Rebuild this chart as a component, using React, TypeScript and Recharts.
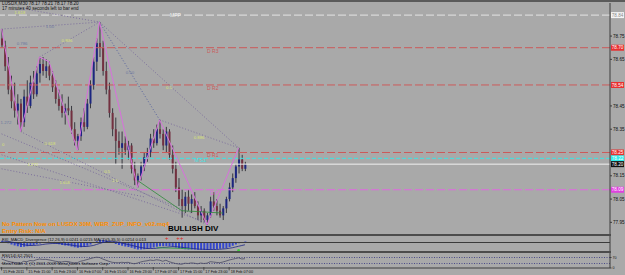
import React from "react";
import {
  ComposedChart,
  Bar,
  Line,
  XAxis,
  YAxis,
  ReferenceLine,
  ReferenceDot,
} from "recharts";

// LUSDX M30 candles (index = bar slot)
const opens = [
  78.74, 78.71, 78.62, 78.52, 78.47, 78.43, 78.46, 78.38, 78.49, 78.45,
  78.55, 78.5, 78.59, 78.63, 78.6, 78.62, 78.58, 78.53, 78.48, 78.45,
  78.42, 78.44, 78.43, 78.35, 78.3, 78.32, 78.38, 78.36, 78.46, 78.54,
  78.64, 78.72, 78.7, 78.6, 78.52, 78.42, 78.35, 78.3, 78.27, 78.29,
  78.26, 78.28, 78.18, 78.13, 78.15, 78.19, 78.23, 78.25, 78.31, 78.29,
  78.35, 78.33, 78.28, 78.34, 78.24, 78.18, 78.1, 78.05, 78.02, 78.06,
  78.03, 78.05, 78.02, 77.98, 78.0, 77.96, 77.98, 78.04, 78.02, 78.0,
  77.98, 78.01, 78.05, 78.1, 78.14, 78.19, 78.22, 78.18,
];
const highs = [
  78.78, 78.73, 78.66, 78.58, 78.55, 78.5, 78.48, 78.52, 78.56, 78.58,
  78.6, 78.62, 78.66, 78.66, 78.65, 78.64, 78.6, 78.56, 78.52, 78.5,
  78.46, 78.49, 78.45, 78.38, 78.33, 78.4, 78.44, 78.48, 78.56, 78.66,
  78.74, 78.81, 78.73, 78.64, 78.55, 78.44, 78.4, 78.34, 78.34, 78.32,
  78.3, 78.29, 78.21, 78.16, 78.21, 78.25, 78.27, 78.33, 78.35, 78.37,
  78.39, 78.35, 78.36, 78.35, 78.28, 78.21, 78.14, 78.09, 78.08, 78.09,
  78.07, 78.08, 78.04, 78.02, 78.01, 77.99, 78.06, 78.08, 78.05, 78.03,
  78.02, 78.06, 78.12, 78.16, 78.2, 78.27, 78.24, 78.21,
];
const lows = [
  78.7, 78.6, 78.5, 78.44, 78.4, 78.37, 78.34, 78.36, 78.42, 78.44,
  78.48, 78.49, 78.55, 78.58, 78.57, 78.56, 78.51, 78.46, 78.43, 78.4,
  78.37, 78.41, 78.33, 78.28, 78.26, 78.3, 78.34, 78.35, 78.44, 78.52,
  78.6, 78.66, 78.58, 78.5, 78.4, 78.32, 78.2, 78.24, 78.18, 78.24,
  78.22, 78.16, 78.11, 78.1, 78.13, 78.17, 78.21, 78.23, 78.27, 78.28,
  78.31, 78.26, 78.25, 78.22, 78.16, 78.08, 78.02, 77.97, 77.99, 78.0,
  77.99, 78.01, 77.96, 77.95, 77.95, 77.94, 77.97, 78.0, 77.98, 77.97,
  77.96, 77.99, 78.04, 78.08, 78.12, 78.16, 78.17, 78.17,
];
const closes = [
  78.71, 78.62, 78.52, 78.47, 78.43, 78.46, 78.38, 78.49, 78.45, 78.55,
  78.5, 78.59, 78.63, 78.6, 78.62, 78.58, 78.53, 78.48, 78.45, 78.42,
  78.44, 78.43, 78.35, 78.3, 78.32, 78.38, 78.36, 78.46, 78.54, 78.64,
  78.72, 78.7, 78.6, 78.52, 78.42, 78.35, 78.3, 78.27, 78.29, 78.26,
  78.28, 78.18, 78.13, 78.15, 78.19, 78.23, 78.25, 78.31, 78.29, 78.35,
  78.33, 78.28, 78.34, 78.24, 78.18, 78.1, 78.05, 78.02, 78.06, 78.03,
  78.05, 78.02, 77.98, 78.0, 77.96, 77.98, 78.04, 78.02, 78.0, 77.98,
  78.01, 78.05, 78.1, 78.14, 78.19, 78.22, 78.18, 78.2,
];

// sub-window indicators
const macdMain = [
  0.005, 0.002, -0.003, -0.008, -0.012, -0.015, -0.018,
  -0.017, -0.015, -0.012, -0.01, -0.007, -0.004, -0.002, -0.001,
  -0.001, -0.002, -0.004, -0.007, -0.01, -0.012, -0.013, -0.016, -0.019, -0.021,
  -0.019, -0.017, -0.013, -0.008, -0.002, 0.005, 0.01,
  0.011, 0.009, 0.005, -0.001, -0.006, -0.01, -0.013, -0.016, -0.018, -0.021, -0.025, -0.028,
  -0.028, -0.027, -0.025, -0.022, -0.02, -0.017, -0.015,
  -0.015, -0.014, -0.015, -0.017, -0.02, -0.023, -0.026, -0.027, -0.028, -0.028, -0.028, -0.029, -0.029, -0.03, -0.03,
  -0.028, -0.027, -0.026, -0.025, -0.024, -0.022, -0.018, -0.013, -0.008, -0.003, 0.001, 0.004,
];
const macdSignal = [
  0.006, 0.005, 0.004, 0.002, 0.0, -0.003, -0.006,
  -0.009, -0.011, -0.012, -0.012, -0.011, -0.01, -0.008, -0.006,
  -0.005, -0.004, -0.004, -0.004, -0.005, -0.007, -0.008, -0.01, -0.012, -0.014,
  -0.015, -0.016, -0.016, -0.014, -0.012, -0.008, -0.004,
  0.0, 0.003, 0.005, 0.005, 0.003, 0.001, -0.002, -0.005, -0.008, -0.011, -0.014, -0.017,
  -0.02, -0.022, -0.024, -0.024, -0.024, -0.023, -0.021,
  -0.02, -0.019, -0.018, -0.017, -0.017, -0.018, -0.019, -0.021, -0.022, -0.024, -0.025, -0.026, -0.027, -0.027, -0.028,
  -0.028, -0.028, -0.028, -0.027, -0.026, -0.025, -0.023, -0.021, -0.018, -0.015, -0.012, -0.009,
];
const rsi = [
  60, 52, 45, 40, 37, 36, 33,
  45, 42, 50, 47, 55, 60, 57, 58,
  54, 50, 45, 42, 40, 44, 43, 38, 34, 36,
  45, 50, 56, 62, 68, 72, 70,
  60, 52, 44, 38, 36, 35, 38, 36, 38, 32, 28, 33,
  40, 45, 48, 53, 50, 55, 52,
  45, 52, 42, 36, 30, 27, 25, 32, 30, 34, 32, 28, 33, 30, 32,
  42, 40, 37, 35, 40, 46, 53, 58, 63, 68, 60, 62,
];

const timeTicks = [0, 8, 16, 24, 32, 40, 48, 56, 64, 72];
const timeLabels = [
  "15 Feb 2011", "15 Feb 15:00", "15 Feb 23:00", "16 Feb 07:00", "16 Feb 15:00",
  "16 Feb 23:00", "17 Feb 07:00", "17 Feb 15:00", "17 Feb 23:00", "18 Feb 07:00",
];
const priceTicks = [77.95, 78.05, 78.15, 78.35, 78.45, 78.65, 78.75];
const macdTicks = [0.021, 0, -0.0287];
const rsiTicks = [100, 70, 30, 0];

// pivot levels
const pivotNames = ["MPP", "D R3", "D R2", "D R1", "M S1", "D P"];
const pivotPrices = [78.84, 78.7, 78.54, 78.25, 78.225, 78.09];
const pivotColors = ["#e4e4e4", "#cc5a5a", "#cc5a5a", "#cc5a5a", "#3fe3e3", "#e068e0"];
const pivotBoxes = ["#f4f4f4", "#e83030", "#e83030", "#e83030", "#30ecec", "#e040e0"];
const pivotLabelAt = [55, 65, 65, 65, 61, 66];
const bid = 78.2;

// zigzag + fan lines
const zigzagAt = [0, 6, 12, 15, 24, 31, 43, 50, 65, 75];
const zigzagPrice = [78.78, 78.34, 78.66, 78.64, 78.26, 78.81, 78.1, 78.39, 77.94, 78.27];
const fanFrom = [[0, 78.78], [5.8, 78.87], [12, 78.66], [31, 78.81], [31, 78.81], [50, 78.39], [6, 78.34], [0, 78.33], [0, 78.24], [0, 78.18]];
const fanTo = [[31, 78.81], [31, 78.81], [31, 78.81], [50, 78.39], [75, 78.27], [75, 78.27], [65, 77.94], [60, 77.99], [65, 77.95], [45, 78.06]];
const greenAt = [43, 57, 70];
const greenPrice = [78.13, 78.0, 77.99];

const fibText = ["1.618", "1.00", "0.786", "0.886", "0.50", "0.5", "1.272", "0", "0.618", "1.272", "1.618", "0.5", "1.0", "0.886"];
const fibAt = [5.8, 15.3, 6.5, 20.7, 40.6, 53, 1.4, 0.5, 15.3, 9.9, 20, 33.4, 35.9, 62.5];
const fibPrice = [78.853, 78.789, 78.72, 78.733, 78.595, 78.53, 78.38, 78.286, 78.29, 78.2, 78.123, 78.17, 78.128, 78.316];
const fibGray = [false, true, true, false, true, false, true, false, false, false, false, false, false, false];

const BG = "#a9a9a9";
const BULL = "#1c2680";
const BEAR = "#733040";
const FONT = "'Liberation Sans', Arial, sans-serif";
const X_DOMAIN: [number, number] = [-0.5, 192.5];

const candles = opens.map((o, i) => ({
  i,
  o,
  h: highs[i],
  l: lows[i],
  c: closes[i],
  range: [lows[i], highs[i]],
}));
const macdRows = macdMain.map((m, i) => ({ i, m, s: macdSignal[i] }));
const rsiRows = rsi.map((r, i) => ({ i, r }));
const zigzag = zigzagAt.map((i, k) => ({ i, p: zigzagPrice[k] }));
const green = greenAt.map((i, k) => ({ i, p: greenPrice[k] }));

function Candle(props: any) {
  const { x, y, width, height, payload } = props;
  if (!payload || y == null) return null;
  const top0 = height < 0 ? y + height : y;
  const hh = Math.abs(height);
  const { o, h, l, c } = payload;
  const span = h - l || 1e-6;
  const py = (v: number) => top0 + ((h - v) / span) * hh;
  const bTop = py(Math.max(o, c));
  const bBot = py(Math.min(o, c));
  const cx = x + width / 2;
  return (
    <g>
      <line x1={cx} x2={cx} y1={top0} y2={top0 + hh} stroke="#2b2b33" strokeWidth={0.9} />
      <rect x={x} y={bTop} width={width} height={Math.max(0.8, bBot - bTop)} fill={c >= o ? BULL : BEAR} />
    </g>
  );
}

const boxLabel = (fill: string, textFill: string, text: string) => (props: any) => {
  const vb = props.viewBox || {};
  const x = (vb.x ?? 0) + (vb.width ?? 0) + 1;
  return (
    <g>
      <rect x={x} y={vb.y - 3} width={13} height={6} fill={fill} />
      <text x={x + 6.5} y={vb.y + 1.7} fontSize={4.6} fontFamily={FONT} textAnchor="middle" fill={textFill}>
        {text}
      </text>
    </g>
  );
};

const textAt = (text: string, fill: string, dy: number, anchor: string, size = 4.8) => (p: any) => (
  <text x={p.cx} y={p.cy + dy} fontSize={size} fontFamily={FONT} fill={fill} textAnchor={anchor}>
    {text}
  </text>
);

const axisTick = { fontSize: 4.6, fill: "#111", fontFamily: FONT };

function TimeTick(props: any) {
  const { x, y, payload } = props;
  const k = timeTicks.indexOf(payload.value);
  return (
    <g>
      <line x1={x} x2={x} y1={y - 1} y2={y + 2.5} stroke="#333" strokeWidth={0.7} />
      <text x={x + 1.5} y={y + 4.6} fontSize={3.8} fontFamily={FONT} fill="#111">
        {timeLabels[k]}
      </text>
    </g>
  );
}

const ov = (top: number, left: number, size: number, color: string, bold = false): React.CSSProperties => ({
  position: "absolute",
  top,
  left,
  fontSize: size,
  lineHeight: 1,
  color,
  fontWeight: bold ? 700 : 400,
  whiteSpace: "nowrap",
  fontFamily: FONT,
});

export default function App() {
  return (
    <div style={{ position: "relative", width: 625, height: 275, background: BG, overflow: "hidden" }}>
      <style>{"body{margin:0}"}</style>

      {/* main price window */}
      <div style={{ position: "absolute", top: 0, left: 0 }}>
        <ComposedChart width={625} height={235} data={candles} margin={{ top: 3, right: 0, bottom: 1, left: 0 }}>
          <XAxis dataKey="i" type="number" domain={X_DOMAIN} allowDataOverflow hide />
          <YAxis
            orientation="right"
            width={15}
            domain={[77.9, 78.892]}
            allowDataOverflow
            ticks={priceTicks}
            tickFormatter={(v: number) => v.toFixed(2)}
            tick={axisTick}
            tickSize={2}
            tickMargin={1}
            axisLine={{ stroke: "#3c3c3c" }}
            tickLine={{ stroke: "#3c3c3c" }}
          />
          {pivotPrices.map((p, k) => (
            <ReferenceLine
              key={pivotNames[k]}
              y={p}
              stroke={pivotColors[k]}
              strokeDasharray={k === 4 ? "4 2" : "8 3"}
              strokeWidth={1}
              label={boxLabel(pivotBoxes[k], k === 0 ? "#888" : "#fff", p.toFixed(2))}
            />
          ))}
          <ReferenceLine y={bid} stroke="#f2f2f2" strokeWidth={1} label={boxLabel("#111", "#fff", bid.toFixed(2))} />
          {fanFrom.map((f, k) => (
            <ReferenceLine
              key={"fan" + k}
              segment={[
                { x: f[0], y: f[1] },
                { x: fanTo[k][0], y: fanTo[k][1] },
              ]}
              stroke={k === 3 ? "#4d5a9c" : "#76689a"}
              strokeDasharray="1 2"
              strokeWidth={0.9}
            />
          ))}
          <Bar dataKey="range" barSize={2} shape={<Candle />} isAnimationActive={false} />
          <Line data={zigzag} dataKey="p" stroke="#d870dc" strokeWidth={1} dot={false} isAnimationActive={false} />
          <Line data={green} dataKey="p" stroke="#2f8a3a" strokeWidth={0.8} dot={false} isAnimationActive={false} />
          {pivotNames.map((n, k) => (
            <ReferenceDot
              key={"pn" + k}
              x={pivotLabelAt[k]}
              y={pivotPrices[k]}
              r={0}
              shape={textAt(n, k === 0 ? "#f4f4f4" : pivotColors[k], k === 0 ? 1.8 : k === 4 ? 4 : 5, k === 0 ? "middle" : "start", 5)}
            />
          ))}
          {fibText.map((t, k) => (
            <ReferenceDot
              key={"fib" + k}
              x={fibAt[k]}
              y={fibPrice[k]}
              r={0}
              shape={textAt(t, fibGray[k] ? "#6c78a0" : "#dce476", 1.5, "middle", 4.3)}
            />
          ))}
        </ComposedChart>
      </div>

      {/* MACD window */}
      <div style={{ position: "absolute", top: 235, left: 0 }}>
        <ComposedChart width={625} height={17} data={macdRows} margin={{ top: 1, right: 0, bottom: 1, left: 0 }}>
          <XAxis dataKey="i" type="number" domain={X_DOMAIN} allowDataOverflow hide />
          <YAxis
            orientation="right"
            width={15}
            domain={[-0.034, 0.026]}
            allowDataOverflow
            ticks={macdTicks}
            tickFormatter={(v: number) => (v === 0 ? "0.00" : String(v))}
            tick={{ ...axisTick, fontSize: 3.8 }}
            tickSize={1.5}
            tickMargin={1}
            axisLine={{ stroke: "#3c3c3c" }}
            tickLine={{ stroke: "#3c3c3c" }}
          />
          <ReferenceLine y={0} stroke="#3a3a3a" strokeWidth={1} />
          <Bar dataKey="m" barSize={2} fill="#3446cc" isAnimationActive={false} />
          <Line dataKey="s" stroke="#1c2488" strokeWidth={0.8} dot={false} isAnimationActive={false} />
          <Line data={[{ i: 49, v: -0.021 }, { i: 60, v: -0.025 }]} dataKey="v" stroke="#35a040" strokeWidth={0.8} dot={false} isAnimationActive={false} />
          <ReferenceDot x={75} y={-0.031} r={1.3} fill="#3ccf3c" stroke="none" />
          {[52.3, 55.8, 57].map((i) => (
            <ReferenceDot key={"ar" + i} x={i} y={0.019} r={0} shape={textAt("+", "#e02020", 1.8, "middle", 6)} />
          ))}
        </ComposedChart>
      </div>

      {/* RSI window + time axis */}
      <div style={{ position: "absolute", top: 251, left: 0 }}>
        <ComposedChart width={625} height={24} data={rsiRows} margin={{ top: 2, right: 0, bottom: 0, left: 0 }}>
          <XAxis
            dataKey="i"
            type="number"
            domain={X_DOMAIN}
            allowDataOverflow
            ticks={timeTicks}
            tick={<TimeTick />}
            tickLine={false}
            tickSize={0}
            tickMargin={0}
            axisLine={{ stroke: "#3c3c3c" }}
            height={7}
            interval={0}
          />
          <YAxis
            orientation="right"
            width={15}
            domain={[0, 100]}
            ticks={rsiTicks}
            tick={{ ...axisTick, fontSize: 3.6 }}
            tickSize={1.5}
            tickMargin={1}
            axisLine={{ stroke: "#3c3c3c" }}
            tickLine={{ stroke: "#3c3c3c" }}
          />
          <ReferenceLine y={70} stroke="#4a4a88" strokeDasharray="1 1.5" />
          <ReferenceLine y={30} stroke="#4a4a88" strokeDasharray="1 1.5" />
          <Line dataKey="r" stroke="#4a4a62" strokeWidth={0.8} dot={false} isAnimationActive={false} />
        </ComposedChart>
      </div>

      {/* window borders */}
      <div style={{ position: "absolute", top: 0, left: 0, width: 625, height: 1.5, background: "#5a5a5a" }} />
      <div style={{ position: "absolute", top: 234, left: 0, width: 611, height: 2, background: "#4c4c4c" }} />
      <div style={{ position: "absolute", top: 251, left: 0, width: 611, height: 2, background: "#4c4c4c" }} />

      {/* chart texts */}
      <div style={ov(1.5, 2, 4.6, "#111")}>LUSDX,M30  78.17 78.21 78.17 78.20</div>
      <div style={ov(6.5, 2, 4.6, "#111")}>17 minutes 40 seconds left to bar end</div>
      <div style={ov(221, 2, 6, "#ff8c00", true)}>No Pattern Now on LUSDX 30M,  WBR_ZUP_INFO_v02.mq4</div>
      <div style={ov(227.5, 2, 6, "#ff8c00", true)}>Entry Risk: N/A</div>
      <div style={ov(225, 168, 8, "#000", true)}>BULLISH DIV</div>
      <div style={ov(237.5, 2, 4.2, "#111")}>FXI_MACD_Divergence (12,26,9) 0.0241 0.0215   MACD(5,35,5) 0.0214 0.013</div>
      <div style={ov(253.5, 2, 4.2, "#111")}>RSI(14) 62.2501</div>
      <div style={ov(261.5, 2, 4.2, "#111")}>MetaTrader 4, (C) 2001-2009 MetaQuotes Software Corp.</div>
    </div>
  );
}
